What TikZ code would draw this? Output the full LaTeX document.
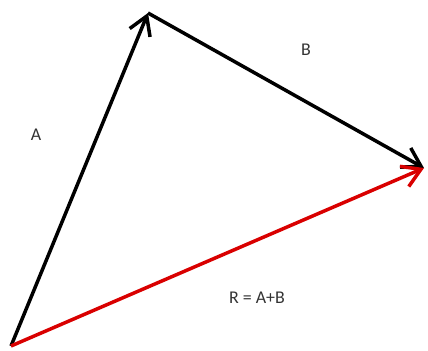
\documentclass[tikz,border=0pt]{standalone}
\usepackage{fontspec}
\setmainfont{Carlito}
\usetikzlibrary{arrows.meta}
\begin{document}
\begin{tikzpicture}[x=1bp,y=-1bp,
  vec/.style={line width=3.5bp,-{Straight Barb[length=18bp,width=22bp,line width=3.5bp]}},
  lbl/.style={font=\fontsize{18}{21}\selectfont,text=black!80}]
\useasboundingbox (0,0) rectangle (428,351);
\coordinate (O) at (11,346);
\coordinate (P) at (148,13);
\coordinate (Q) at (424,168);
\draw[vec,black] (O) -- (P);
\draw[vec,black] (P) -- (Q);
\draw[vec,red!85!black] (O) -- (Q);
\node[lbl] (la) at (36,135) {A};
\node[lbl] (lb) at (306,50) {B};
\node[lbl] (lr) at (257,298) {R = A+B};
\end{tikzpicture}
\end{document}
